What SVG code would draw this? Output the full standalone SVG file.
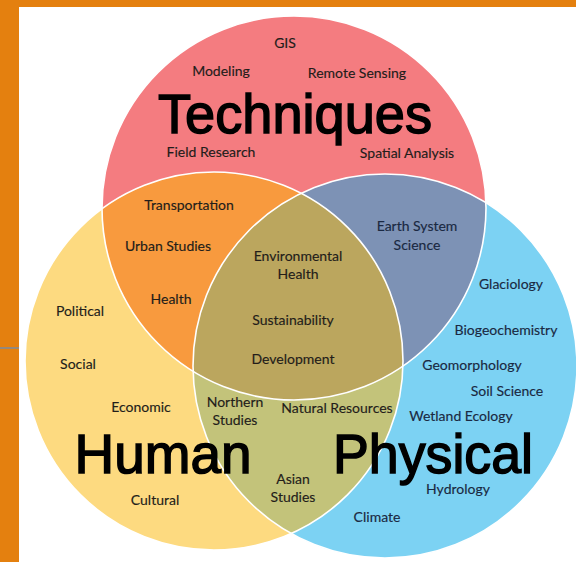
<svg xmlns="http://www.w3.org/2000/svg" width="576" height="562" viewBox="0 0 576 562">
<defs>
<style>
.s{font-family:Lato,"Open Sans","Liberation Sans",sans-serif;font-size:14px;fill:#231d1a;text-anchor:middle;stroke:#231d1a;stroke-width:0.15px}
.b{fill:#1a2942;stroke:#1a2942}
.big{font-family:"Liberation Sans",Arial,sans-serif;font-size:56px;fill:#000;stroke:#000;stroke-width:1.5px;text-anchor:middle}
.edge{fill:none;stroke:#fff;stroke-width:1.6}
</style>
<clipPath id="cR"><circle cx="294" cy="208" r="192"/></clipPath>
<clipPath id="cY"><circle cx="214" cy="361" r="189"/></clipPath>
</defs>
<rect x="0" y="0" width="576" height="562" fill="#fff"/>
<rect x="0" y="0" width="576" height="7" fill="#E4800F"/>
<rect x="0" y="0" width="19" height="562" fill="#E4800F"/>
<rect x="0" y="347" width="19" height="2" fill="#94887C"/>

<g id="circles">
<circle id="c-tech" cx="294" cy="208" r="192" fill="#F47C80"/>
<circle id="c-human" cx="214" cy="361" r="189" fill="#FDDA80"/>
<circle id="c-phys" cx="385" cy="366" r="192" fill="#7CD2F3"/>
<circle cx="214" cy="361" r="189" fill="#F89A3E" clip-path="url(#cR)"/>
<circle cx="385" cy="366" r="192" fill="#7D92B5" clip-path="url(#cR)"/>
<circle cx="385" cy="366" r="192" fill="#C3C37A" clip-path="url(#cY)"/>
<g clip-path="url(#cR)"><circle cx="385" cy="366" r="192" fill="#BBA65E" clip-path="url(#cY)"/></g>
<circle class="edge" cx="294" cy="208" r="192"/>
<circle class="edge" cx="214" cy="361" r="189"/>
<circle class="edge" cx="385" cy="366" r="192"/>
</g>

<g id="techniques">
<text class="s" x="285" y="48">GIS</text>
<text class="s" x="221" y="76">Modeling</text>
<text class="s" x="357" y="78">Remote Sensing</text>
<text class="big" x="295" y="133" textLength="274" lengthAdjust="spacingAndGlyphs">Techniques</text>
<text class="s" x="211" y="157">Field Research</text>
<text class="s" x="407" y="158">Spatial Analysis</text>
</g>

<g id="tech-human">
<text class="s" x="189" y="210">Transportation</text>
<text class="s" x="168" y="251">Urban Studies</text>
<text class="s" x="171" y="304">Health</text>
</g>

<g id="center">
<text class="s" x="298" y="261">Environmental</text>
<text class="s" x="298" y="279">Health</text>
<text class="s" x="293" y="325">Sustainability</text>
<text class="s" x="293" y="364">Development</text>
</g>

<g id="tech-physical">
<text class="s b" x="417" y="231">Earth System</text>
<text class="s b" x="417" y="250">Science</text>
</g>

<g id="physical">
<text class="s b" x="511" y="289">Glaciology</text>
<text class="s b" x="506" y="335">Biogeochemistry</text>
<text class="s b" x="472" y="370">Geomorphology</text>
<text class="s b" x="507" y="396">Soil Science</text>
<text class="s b" x="461" y="421">Wetland Ecology</text>
<text class="big" x="433" y="473" textLength="200" lengthAdjust="spacingAndGlyphs">Physical</text>
<text class="s b" x="458" y="494">Hydrology</text>
<text class="s b" x="377" y="522">Climate</text>
</g>

<g id="human-physical">
<text class="s" x="235" y="407">Northern</text>
<text class="s" x="235" y="425">Studies</text>
<text class="s" x="337" y="413">Natural Resources</text>
<text class="s" x="293" y="484">Asian</text>
<text class="s" x="293" y="502">Studies</text>
</g>

<g id="human">
<text class="s" x="80" y="316">Political</text>
<text class="s" x="78" y="369">Social</text>
<text class="s" x="141" y="412">Economic</text>
<text class="big" x="163" y="473" textLength="177" lengthAdjust="spacingAndGlyphs">Human</text>
<text class="s" x="155" y="505">Cultural</text>
</g>
</svg>
